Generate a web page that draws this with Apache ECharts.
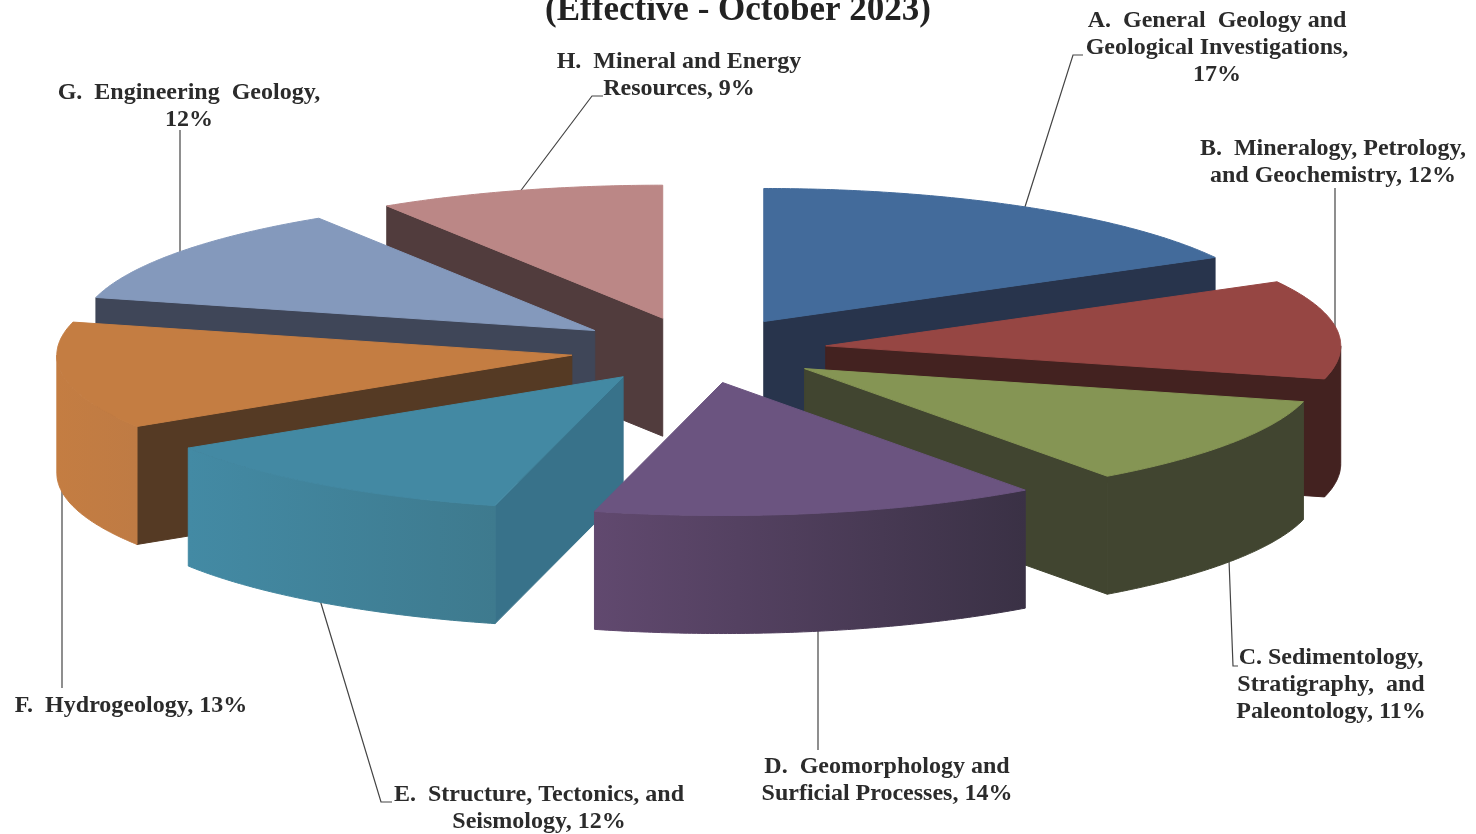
<!DOCTYPE html>
<html>
<head>
<meta charset="utf-8">
<title>Effective - October 2023</title>
<script src="https://cdn.jsdelivr.net/npm/echarts@6/dist/echarts.min.js"></script>
<style>
html, body { margin: 0; padding: 0; background: #fff; }
#chart { width: 1476px; height: 834px; }
</style>
</head>
<body>
<div id="chart"></div>
<script>
// percentages, clockwise from 12 o'clock
const values = [17, 12, 11, 14, 12, 13, 12, 9]
const labelHeads = [
  'A.  General  Geology and\nGeological Investigations,\n',
  'B.  Mineralogy, Petrology,\nand Geochemistry, ',
  'C. Sedimentology,\nStratigraphy,  and\nPaleontology, ',
  'D.  Geomorphology and\nSurficial Processes, ',
  'E.  Structure, Tectonics, and\nSeismology, ',
  'F.  Hydrogeology, ',
  'G.  Engineering  Geology,\n',
  'H.  Mineral and Energy\nResources, '
]
const titleText = '(Effective - October 2023)'

// colours per slice: top, radial wall, outer wall left and right
const topColors = ['#436b9b', '#964643', '#859554', '#6b5480', '#4389a3', '#c47d42', '#8499bc', '#bb8786']
const wallColors = ['#28344c', '#432220', '#414530', '#3a3145', '#38728a', '#553a24', '#3f4658', '#513c3d']
const outerLeft = ['#28344c', '#432220', '#414530', '#61496f', '#438aa4', '#c47d42', '#3f4658', '#513c3d']
const outerRight = ['#28344c', '#432220', '#414530', '#3a3145', '#3e7a8e', '#bf7b44', '#3f4658', '#513c3d']

// label placement and leader lines
const labelAnchors = [[1217, 7], [1333, 135], [1331, 644], [887, 753], [539, 781], [131, 692], [189, 79], [679, 48]]
const leaderLines = [
  [[1024, 210], [1073, 55], [1083, 55]],
  [[1335, 188], [1335, 330]],
  [[1229, 560], [1233, 666], [1238, 666]],
  [[818, 630], [818, 750]],
  [[320, 600], [381, 802], [392, 802]],
  [[62, 488], [62, 688]],
  [[180, 130], [180, 256]],
  [[519, 193], [592, 96], [603, 96]]
]

// projection of the pie
const pie = { cx: 698.5, cy: 350, rx: 515, ry: 133, depth: 118, explode: 0.249 }
const FONT = '"Liberation Serif", "Times New Roman", serif'

const total = values.reduce((a, b) => a + b, 0)
let running = 0
const slices = values.map((v, i) => {
  const start = running / total * 360
  running += v
  return [start, running / total * 360, i]
})
// back slices are painted first
const paintOrder = slices.slice().sort((a, b) => {
  const mid = s => (s[0] + s[1]) / 2 * Math.PI / 180
  return Math.cos(mid(b)) - Math.cos(mid(a))
})

function renderSlice(params, api) {
  const a0 = api.value(0)
  const a1 = api.value(1)
  const i = api.value(2)
  const rad = d => d * Math.PI / 180
  const mid = rad((a0 + a1) / 2)
  const ox = pie.cx + pie.explode * pie.rx * Math.sin(mid)
  const oy = pie.cy - pie.explode * pie.ry * Math.cos(mid)
  const rim = d => [ox + pie.rx * Math.sin(rad(d)), oy - pie.ry * Math.cos(rad(d))]
  const down = p => [p[0], p[1] + pie.depth]
  const arc = (from, to) => {
    const pts = []
    const steps = Math.max(2, Math.ceil((to - from) * 2))
    for (let k = 0; k <= steps; k++) pts.push(rim(from + (to - from) * k / steps))
    return pts
  }
  const poly = (points, fill) => ({
    type: 'polygon',
    shape: { points: points },
    style: { fill: fill, stroke: fill, lineWidth: 1 }
  })
  const apex = [ox, oy]
  const children = []
  // radial walls that face the viewer
  if (Math.sin(rad(a0)) < -0.001) {
    const p = rim(a0)
    children.push(poly([apex, p, down(p), down(apex)], wallColors[i]))
  }
  if (Math.sin(rad(a1)) > 0.001) {
    const p = rim(a1)
    children.push(poly([apex, p, down(p), down(apex)], wallColors[i]))
  }
  // outer wall, only the front half of the rim
  const from = Math.max(a0, 90)
  const to = Math.min(a1, 270)
  if (to > from) {
    const top = arc(from, to)
    const fill = new echarts.graphic.LinearGradient(0, 0, 1, 0, [
      { offset: 0, color: outerLeft[i] },
      { offset: 1, color: outerRight[i] }
    ])
    children.push(poly(top.concat(top.slice().reverse().map(down)), fill))
  }
  children.push(poly([apex].concat(arc(a0, a1)), topColors[i]))
  return { type: 'group', children: children }
}

const chart = echarts.init(document.getElementById('chart'))

const lineGraphics = leaderLines.map(pts => ({
  type: 'polyline',
  z: 1,
  silent: true,
  shape: { points: pts },
  style: { stroke: '#444', lineWidth: 1.2, fill: null }
}))
const labelGraphics = values.map((v, i) => ({
  type: 'text',
  z: 5,
  silent: true,
  x: labelAnchors[i][0],
  y: labelAnchors[i][1],
  style: {
    text: labelHeads[i] + v + '%',
    align: 'center',
    verticalAlign: 'top',
    lineHeight: 27.2,
    fill: '#2b2b2b',
    font: 'bold 24px ' + FONT
  }
}))

chart.setOption({
  backgroundColor: '#fff',
  animation: false,
  title: {
    text: titleText,
    left: 733,
    top: -12,
    textAlign: 'center',
    textStyle: { color: '#222', fontFamily: FONT, fontWeight: 'bold', fontSize: 35 }
  },
  graphic: lineGraphics.concat(labelGraphics),
  series: [
    {
      type: 'custom',
      coordinateSystem: 'none',
      z: 2,
      silent: true,
      renderItem: renderSlice,
      data: paintOrder
    }
  ]
})

window.addEventListener('resize', () => chart.resize())
</script>
</body>
</html>
